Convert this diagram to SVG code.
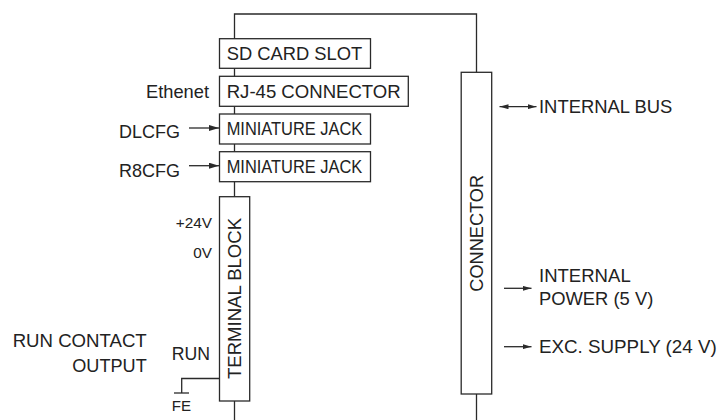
<svg xmlns="http://www.w3.org/2000/svg" width="718" height="420" viewBox="0 0 718 420">
<style>
  .ln{fill:none;stroke:#2a2a2a;stroke-width:1.3}
  .bx{fill:#fff;stroke:#2a2a2a;stroke-width:1.3}
  text{font-family:"Liberation Sans",Arial,Helvetica,sans-serif;fill:#222;font-size:18.5px}
  .sm{font-size:14.5px}
  .e{text-anchor:end}
  .m{text-anchor:middle}
</style>
<defs>
  <marker id="ah" markerWidth="10" markerHeight="6" refX="10" refY="3" orient="auto" markerUnits="userSpaceOnUse">
    <path d="M0,0 L10,3 L0,6 Z" fill="#2a2a2a"/>
  </marker>
  <marker id="ahs" markerWidth="9" markerHeight="5" refX="9" refY="2.5" orient="auto-start-reverse" markerUnits="userSpaceOnUse">
    <path d="M0,0 L9,2.5 L0,5 Z" fill="#2a2a2a"/>
  </marker>
</defs>
<g id="connectors">
  <path class="ln" d="M234.5,420 V14 H476.5 V420"/>
  <path class="ln" d="M219.5,378.5 H181.7 V393"/>
  <path class="ln" d="M174,393 H189"/>
  <path class="ln" d="M189,128 H219" marker-end="url(#ah)"/>
  <path class="ln" d="M189,165.7 H219" marker-end="url(#ah)"/>
  <path class="ln" d="M499.5,106.7 H536.5" marker-start="url(#ahs)" marker-end="url(#ahs)"/>
  <path class="ln" d="M504,288.3 H531.5" marker-end="url(#ahs)"/>
  <path class="ln" d="M504,346.7 H531.5" marker-end="url(#ahs)"/>
</g>
<g id="sd-card-slot">
  <rect class="bx" x="219.5" y="38.7" width="151" height="29.6"/>
  <text x="226.7" y="60" textLength="135.6" lengthAdjust="spacingAndGlyphs">SD CARD SLOT</text>
</g>
<g id="rj45-connector">
  <rect class="bx" x="219.5" y="76.3" width="188.8" height="30"/>
  <text x="226.7" y="97.7" textLength="174" lengthAdjust="spacingAndGlyphs">RJ-45 CONNECTOR</text>
  <text x="146" y="97.7" textLength="63" lengthAdjust="spacingAndGlyphs">Ethenet</text>
</g>
<g id="miniature-jack-1">
  <rect class="bx" x="219.5" y="114" width="151" height="30"/>
  <text x="226.7" y="135" textLength="135.6" lengthAdjust="spacingAndGlyphs">MINIATURE JACK</text>
  <text x="119" y="138.3" textLength="61" lengthAdjust="spacingAndGlyphs">DLCFG</text>
</g>
<g id="miniature-jack-2">
  <rect class="bx" x="219.5" y="151.7" width="151" height="30"/>
  <text x="226.7" y="172.7" textLength="135.6" lengthAdjust="spacingAndGlyphs">MINIATURE JACK</text>
  <text x="119" y="176.7" textLength="61" lengthAdjust="spacingAndGlyphs">R8CFG</text>
</g>
<g id="terminal-block">
  <rect class="bx" x="219.5" y="196.7" width="30.2" height="204.3"/>
  <text transform="translate(241.3,379) rotate(-90)" textLength="161" lengthAdjust="spacingAndGlyphs">TERMINAL BLOCK</text>
  <text class="sm" x="175.7" y="228.3" textLength="36.3" lengthAdjust="spacingAndGlyphs">+24V</text>
  <text class="sm" x="193.3" y="257.7" textLength="18.7" lengthAdjust="spacingAndGlyphs">0V</text>
  <text x="171.7" y="360" textLength="38.3" lengthAdjust="spacingAndGlyphs">RUN</text>
  <text x="12.7" y="346.7" textLength="134" lengthAdjust="spacingAndGlyphs">RUN CONTACT</text>
  <text x="72.3" y="371.7" textLength="74.4" lengthAdjust="spacingAndGlyphs">OUTPUT</text>
  <text class="sm" x="171.7" y="410.7" textLength="19.3" lengthAdjust="spacingAndGlyphs">FE</text>
</g>
<g id="connector">
  <rect class="bx" x="461.2" y="72.3" width="30.5" height="321.7"/>
  <text transform="translate(483.3,291.7) rotate(-90)" textLength="116.7" lengthAdjust="spacingAndGlyphs">CONNECTOR</text>
  <text x="539" y="113.3" textLength="133.3" lengthAdjust="spacingAndGlyphs">INTERNAL BUS</text>
  <text x="539" y="281.7" textLength="91.7" lengthAdjust="spacingAndGlyphs">INTERNAL</text>
  <text x="539" y="305" textLength="114.3" lengthAdjust="spacingAndGlyphs">POWER (5 V)</text>
  <text x="539" y="353.3" textLength="177.7" lengthAdjust="spacingAndGlyphs">EXC. SUPPLY (24 V)</text>
</g>
</svg>
